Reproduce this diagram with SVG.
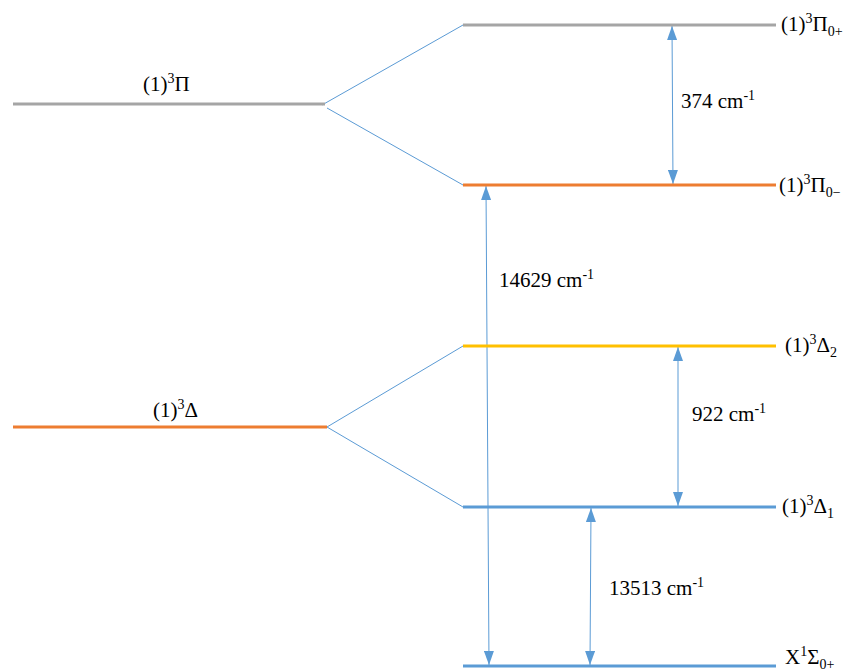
<svg xmlns="http://www.w3.org/2000/svg" width="847" height="671" viewBox="0 0 847 671">
<style>
text{font-family:"Liberation Serif","Times New Roman",serif;font-size:21px;fill:#000}
.sup{font-size:14px}
.sub{font-size:14px}
.lvl{stroke-width:3;fill:none}
.gray{stroke:#A5A5A5}
.orange{stroke:#ED7D31}
.yellow{stroke:#FFC000}
.blue{stroke:#5B9BD5}
.conn{stroke:#5B9BD5;stroke-width:1;fill:none}
.arr{stroke:#5B9BD5;stroke-width:1;fill:none;marker-start:url(#ah);marker-end:url(#ah)}
</style>
<defs>
<marker id="ah" viewBox="0 0 14 10" refX="14" refY="5" markerWidth="14" markerHeight="10" markerUnits="userSpaceOnUse" orient="auto-start-reverse">
<path d="M0,0 L14,5 L0,10 Z" fill="#5B9BD5"/>
</marker>
</defs>
<rect width="847" height="671" fill="#fff"/>
<g id="connectors">
<line class="conn" x1="322" y1="105" x2="463" y2="25"/>
<line class="conn" x1="327" y1="108" x2="463" y2="185"/>
<line class="conn" x1="327" y1="427" x2="463" y2="346"/>
<line class="conn" x1="327" y1="427" x2="463" y2="507"/>
<line class="arr" x1="672" y1="26" x2="673" y2="184"/>
<line class="arr" x1="486" y1="186" x2="489" y2="665"/>
<line class="arr" x1="678" y1="347" x2="678" y2="506"/>
<line class="arr" x1="591" y1="508" x2="590" y2="665"/>
</g>
<g id="pi-left">
<line class="lvl gray" x1="13" y1="104" x2="325" y2="104"/>
<text x="143" y="91">(1)<tspan class="sup" dy="-8">3</tspan><tspan dy="8">Π</tspan></text>
</g>
<g id="delta-left">
<line class="lvl orange" x1="13" y1="427" x2="327" y2="427"/>
<text x="153" y="417">(1)<tspan class="sup" dy="-8">3</tspan><tspan dy="8">Δ</tspan></text>
</g>
<g id="pi0plus">
<line class="lvl gray" x1="463" y1="25" x2="776" y2="25"/>
<text x="781" y="31">(1)<tspan class="sup" dy="-8">3</tspan><tspan dy="8">Π</tspan><tspan class="sub" dy="5">0+</tspan></text>
</g>
<g id="pi0minus">
<line class="lvl orange" x1="463" y1="185" x2="776" y2="185"/>
<text x="779" y="192">(1)<tspan class="sup" dy="-8">3</tspan><tspan dy="8">Π</tspan><tspan class="sub" dy="5">0−</tspan></text>
</g>
<g id="delta2">
<line class="lvl yellow" x1="463" y1="346" x2="776" y2="346"/>
<text x="785" y="352">(1)<tspan class="sup" dy="-8">3</tspan><tspan dy="8">Δ</tspan><tspan class="sub" dy="5">2</tspan></text>
</g>
<g id="delta1">
<line class="lvl blue" x1="463" y1="507" x2="776" y2="507"/>
<text x="782" y="513">(1)<tspan class="sup" dy="-8">3</tspan><tspan dy="8">Δ</tspan><tspan class="sub" dy="5">1</tspan></text>
</g>
<g id="ground">
<line class="lvl blue" x1="463" y1="666" x2="776" y2="666"/>
<text x="785" y="664">X<tspan class="sup" dy="-8">1</tspan><tspan dy="8">Σ</tspan><tspan class="sub" dy="5">0+</tspan></text>
</g>
<g id="labels">
<text x="681" y="108">374 cm<tspan class="sup" dy="-8">-1</tspan></text>
<text x="499" y="287">14629 cm<tspan class="sup" dy="-8">-1</tspan></text>
<text x="692" y="421">922 cm<tspan class="sup" dy="-8">-1</tspan></text>
<text x="609" y="595">13513 cm<tspan class="sup" dy="-8">-1</tspan></text>
</g>
</svg>
